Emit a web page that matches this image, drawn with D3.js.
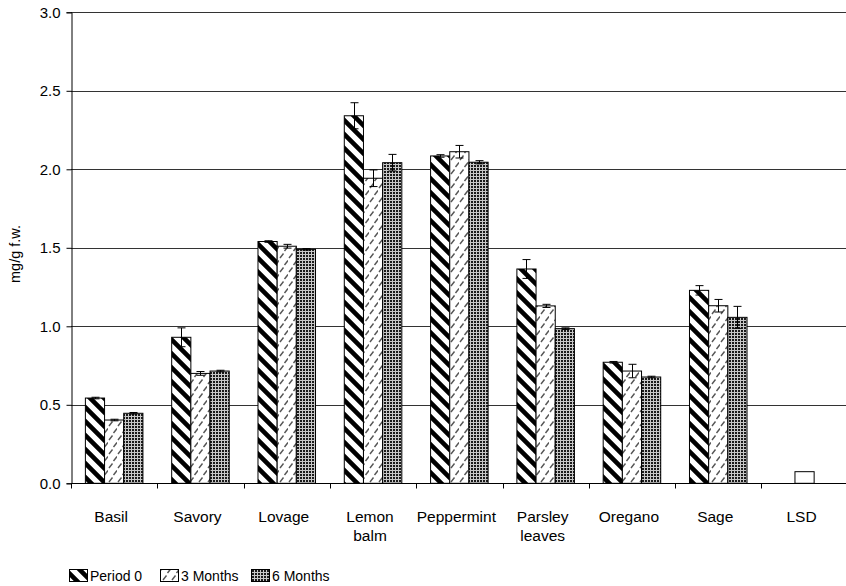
<!DOCTYPE html>
<html>
<head>
<meta charset="utf-8">
<script src="https://cdn.jsdelivr.net/npm/d3@7"></script>
<style>
  html, body { margin: 0; padding: 0; background: #fff; }
  svg { display: block; font-family: "Liberation Sans", Arial, sans-serif; }
</style>
</head>
<body>
<svg id="chart" width="846" height="586"></svg>
<script>
// Category labels (multi-word labels wrap onto two lines)
const categories = ["Basil", "Savory", "Lovage", "Lemon balm", "Peppermint", "Parsley leaves", "Oregano", "Sage", "LSD"];
const seriesNames = ["Period 0", "3 Months", "6 Months"];

// Content in mg/g fresh weight per storage period (herbs only)
const period0   = [0.543, 0.93, 1.54, 2.341, 2.085, 1.365, 0.771, 1.229];
const months3   = [0.403, 0.70, 1.51, 1.943, 2.112, 1.13, 0.715, 1.131];
const months6   = [0.446, 0.715, 1.49, 2.042, 2.045, 0.985, 0.677, 1.057];

// Standard deviations shown as error bars
const period0Err = [0.005, 0.06, 0.005, 0.083, 0.008, 0.06, 0.005, 0.03];
const months3Err = [0.005, 0.012, 0.012, 0.053, 0.04, 0.01, 0.043, 0.04];
const months6Err = [0.005, 0.005, 0.005, 0.053, 0.01, 0.005, 0.005, 0.07];

// Least significant difference
const lsdValue = 0.074;

const yTicks = [0, 0.5, 1.0, 1.5, 2.0, 2.5, 3.0];

const svg = d3.select("#chart");
const plotLeft = 71, plotRight = 847.7, plotTop = 12.3, plotBottom = 483.3;

const x = d3.scaleBand().domain(categories).range([plotLeft, plotRight]).padding(0);
const slot = d3.scaleBand().domain([0, 1, 2]).range([0, x.bandwidth()]).paddingOuter(0.75).paddingInner(0);
const y = d3.scaleLinear().domain([0, 3]).range([plotBottom, plotTop]);

// Fill patterns
const defs = svg.append("defs");

const pStripe = defs.append("pattern").attr("id", "p0").attr("patternUnits", "userSpaceOnUse")
  .attr("width", 14).attr("height", 14);
pStripe.append("rect").attr("width", 14).attr("height", 14).attr("fill", "#fff");
pStripe.append("path")
  .attr("d", "M-3,-3 L17,17 M-3,11 L5,19 M11,-3 L19,5")
  .attr("stroke", "#000").attr("stroke-width", 4.6).attr("fill", "none");

const pDash = defs.append("pattern").attr("id", "p3").attr("patternUnits", "userSpaceOnUse")
  .attr("width", 9).attr("height", 14);
pDash.append("rect").attr("width", 9).attr("height", 14).attr("fill", "#fff");
pDash.append("path")
  .attr("d", "M1,6 L4.5,1.5 M5.5,13 L9,8.5")
  .attr("stroke", "#555").attr("stroke-width", 1.4).attr("fill", "none");

const pDots = defs.append("pattern").attr("id", "p6").attr("patternUnits", "userSpaceOnUse")
  .attr("width", 3).attr("height", 3);
pDots.append("rect").attr("width", 3).attr("height", 3).attr("fill", "#c8c8c8");
pDots.append("rect").attr("width", 2).attr("height", 2).attr("fill", "#1a1a1a");

const fills = ["url(#p0)", "url(#p3)", "url(#p6)"];

// Horizontal gridlines
svg.append("g").selectAll("line").data(yTicks.filter(d => d > 0)).join("line")
  .attr("x1", plotLeft).attr("x2", 846)
  .attr("y1", d => Math.round(y(d)) + 0.5).attr("y2", d => Math.round(y(d)) + 0.5)
  .attr("stroke", "#333").attr("stroke-width", 1);

// Bars
const seriesVals = [period0, months3, months6];
const seriesErr = [period0Err, months3Err, months6Err];
const bars = [];
seriesVals.forEach((vals, s) => vals.forEach((v, i) => bars.push({ cat: categories[i], s, v, e: seriesErr[s][i] })));

const gBars = svg.append("g");
gBars.selectAll("rect").data(bars).join("rect")
  .attr("x", d => x(d.cat) + slot(d.s))
  .attr("width", slot.bandwidth())
  .attr("y", d => y(d.v))
  .attr("height", d => y(0) - y(d.v))
  .attr("fill", d => fills[d.s])
  .attr("stroke", "#000").attr("stroke-width", 1);

// LSD bar in the middle slot
gBars.append("rect")
  .attr("x", x("LSD") + slot(1))
  .attr("width", slot.bandwidth())
  .attr("y", y(lsdValue))
  .attr("height", y(0) - y(lsdValue))
  .attr("fill", "#fff").attr("stroke", "#000").attr("stroke-width", 1);

// Error bars
const gErr = svg.append("g").attr("stroke", "#000").attr("stroke-width", 1);
bars.forEach(d => {
  const cx = Math.round(x(d.cat) + slot(d.s) + slot.bandwidth() / 2) + 0.5;
  const yHi = y(d.v + d.e), yLo = y(d.v - d.e);
  gErr.append("line").attr("x1", cx).attr("x2", cx).attr("y1", yHi).attr("y2", yLo);
  gErr.append("line").attr("x1", cx - 4).attr("x2", cx + 4).attr("y1", yHi).attr("y2", yHi);
  gErr.append("line").attr("x1", cx - 4).attr("x2", cx + 4).attr("y1", yLo).attr("y2", yLo);
});

// Y axis
const yAxis = svg.append("g").attr("transform", `translate(${plotLeft + 0.5},0)`)
  .call(d3.axisLeft(y).tickValues(yTicks).tickFormat(d3.format(".1f")).tickSize(5).tickPadding(6));
yAxis.select(".domain").attr("stroke", "#000");
yAxis.selectAll(".tick line").attr("stroke", "#000");
yAxis.selectAll("text").attr("font-size", 15).attr("fill", "#000").attr("font-family", "Liberation Sans, Arial, sans-serif");

// X axis with ticks between categories
const xAxisG = svg.append("g").attr("transform", `translate(0,${Math.round(plotBottom) + 0.5})`);
xAxisG.append("line").attr("x1", plotLeft).attr("x2", 846).attr("y1", 0).attr("y2", 0).attr("stroke", "#000");
xAxisG.selectAll(".xt").data(categories).join("line").attr("class", "xt")
  .attr("x1", d => Math.round(x(d)) + 0.5).attr("x2", d => Math.round(x(d)) + 0.5)
  .attr("y1", 0).attr("y2", 5).attr("stroke", "#000");

const labels = svg.append("g").attr("font-size", 15.5).attr("fill", "#000").attr("text-anchor", "middle");
categories.forEach(c => {
  const cx = x(c) + x.bandwidth() / 2 - 3;
  const t = labels.append("text").attr("x", cx).attr("y", 522);
  c.split(" ").forEach((w, k) => t.append("tspan").attr("x", cx).attr("dy", k === 0 ? 0 : 19).text(w));
});

// Y axis title
svg.append("text")
  .attr("transform", "translate(20,254) rotate(-90)")
  .attr("text-anchor", "middle").attr("font-size", 14.5).attr("fill", "#000")
  .text("mg/g f.w.");

// Legend
const legendX = [69, 160, 251];
const legend = svg.append("g");
seriesNames.forEach((name, s) => {
  legend.append("rect").attr("x", legendX[s] + 0.5).attr("y", 569.5).attr("width", 18).attr("height", 12)
    .attr("fill", fills[s]).attr("stroke", "#000");
  legend.append("text").attr("x", legendX[s] + 21).attr("y", 581).attr("font-size", 14).attr("fill", "#000").text(name);
});
</script>
</body>
</html>
